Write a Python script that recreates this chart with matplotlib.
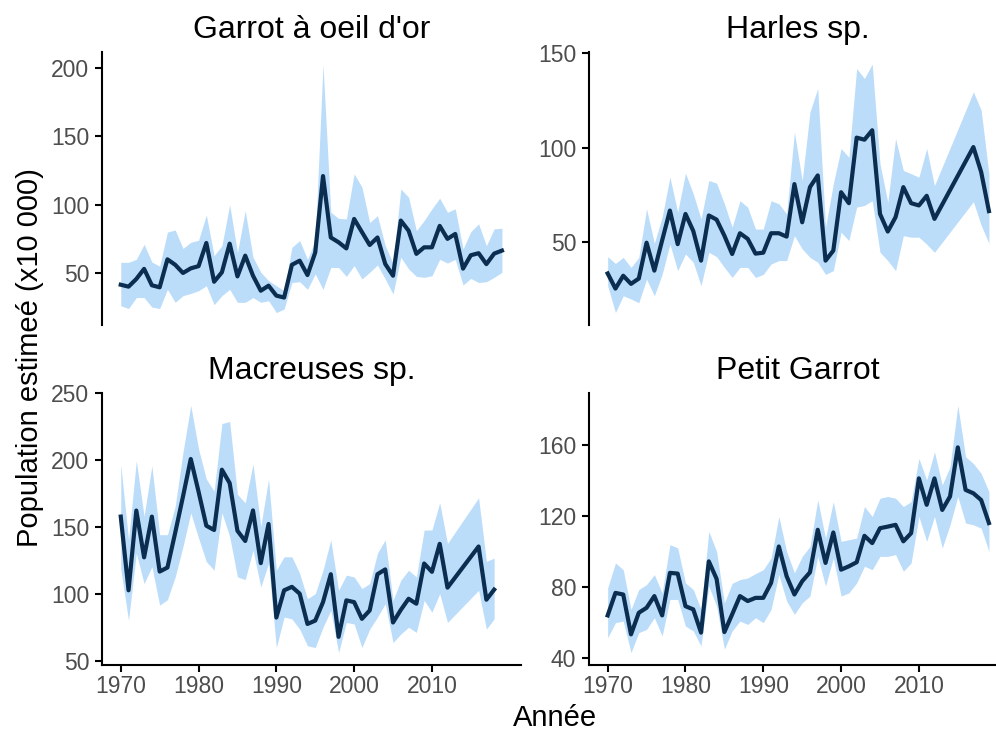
import matplotlib
matplotlib.use("Agg")
import matplotlib.pyplot as plt
import numpy as np

plt.rcParams["font.family"] = ["Liberation Sans", "DejaVu Sans"]

# Garrot à oeil d'or, 1970-2019
garrot_years = list(range(1970, 2020))
garrot_est = [41.4, 40, 45.6, 53, 41, 39.5, 60, 56, 50, 53.4,
              55, 72, 43.6, 50.5, 71.5, 47.5, 62.7, 48, 37, 40.7,
              33.4, 32, 56, 59, 48.5, 65, 121, 76, 72.5, 68,
              89.6, 80, 70.5, 76, 56.6, 48, 88.4, 81, 64, 68.8,
              68.8, 84.5, 75, 78.6, 53.2, 63, 64.5, 56.5, 64.2, 66.4]
garrot_lo = [26, 24, 32, 32, 25, 24, 38, 28.5, 33.4, 35,
             37, 40.7, 26.8, 33.4, 38, 28.5, 28.5, 32, 28.5, 29.7,
             21, 23.6, 43, 43.6, 38, 49.3, 38, 54, 54, 47.5,
             55.4, 45.6, 50.5, 55.9, 45.6, 34.6, 61.5, 53, 47.5, 46.8,
             48, 60, 57.3, 60, 41.2, 46, 43, 43.6, 46.8, 50.5]
garrot_hi = [57.8, 57.8, 60, 71, 58, 55, 80, 81.5, 68, 72.5,
             74, 92.5, 62.7, 70, 100, 65, 95.7, 61.5, 50.5, 44.4,
             40.7, 37, 68.8, 73.7, 60, 73.7, 203, 94.5, 90, 89.6,
             122.6, 113, 87, 92, 70, 57, 111.6, 105.5, 81, 88.4,
             97, 104.8, 94.5, 97, 67.6, 80.3, 86, 70, 82.3, 82.8]

# Harles sp., no survey 2013-2016
harles_years = list(range(1970, 2013)) + [2017, 2018, 2019]
harles_est = [33.5, 25.5, 32.3, 28, 30.8, 49.8, 35, 51, 66.8, 49,
              65, 56, 40.3, 64.2, 62, 53.5, 43.8, 54.8, 51.8, 44,
              44.5, 54.8, 54.8, 53, 80.8, 60.6, 79.2, 85.4, 40.3, 45.6,
              76.5, 70.7, 105.4, 104.3, 109.3, 65, 55.7, 63.3, 79.2, 70.7,
              69.5, 74.6, 62.4,
              100.4, 87.2, 66.5]
harles_lo = [27, 12.8, 21.7, 20, 18, 30.5, 21.7, 33, 49, 35,
             43.8, 39.4, 27, 44.7, 42.4, 36.7, 31.4, 36.7, 36.7, 31.4,
             33, 38.5, 40.3, 40.3, 53.5, 46.5, 42, 39.4, 33, 35,
             55.3, 50.9, 68.6, 69.5, 72, 44.7, 40.3, 35, 53.5, 52.7,
             52.7, 49, 44.7,
             71.5, 59, 49.5]
harles_hi = [42.4, 38.8, 42, 36.7, 42, 67.7, 49.5, 63.3, 84.5, 66,
             86.6, 75.7, 62.4, 82.7, 81.3, 70.4, 58, 72, 68.6, 57,
             57, 72, 70.4, 65, 108.4, 82.7, 119, 131.4, 58, 81,
             99.6, 95, 142, 136.7, 144.3, 91.6, 71.2, 104.9, 88, 86.3,
             84.5, 99.6, 80,
             129.6, 120, 86]

# Macreuses sp., no survey 2013-2015
macreuses_years = list(range(1970, 2013)) + [2016, 2017, 2018]
macreuses_est = [158, 103, 162.5, 127.6, 158, 117, 120, 146, 173, 201,
                 176.6, 151.2, 148, 193, 183, 147.4, 139.8, 162.6, 123.3, 152.5,
                 82.7, 103, 105.6, 100.5, 77.9, 80.4, 94.2, 115, 68.3, 95.5,
                 94.2, 81.7, 88, 115, 118.6, 79, 88.4, 96.7, 93, 123,
                 116.8, 137.7, 105,
                 135.7, 96, 103.5]
macreuses_lo = [119, 80.5, 130.7, 108, 120.6, 92, 96, 113, 135.7, 160.8,
                142, 124.4, 118, 160.8, 143.2, 113, 111, 133, 105.5, 123,
                60.3, 83, 81.7, 74, 61.6, 60.3, 75.4, 88, 56.5, 79,
                77.9, 60.3, 74, 83, 93, 64, 70.4, 75.4, 71.6, 95.5,
                86.7, 100.5, 79,
                103, 74, 81.7]
macreuses_hi = [197, 140.7, 199.7, 158.3, 196, 144.5, 144.5, 165.8, 206, 241,
                208.5, 186, 177, 227.4, 229, 174.6, 168.3, 197.2, 150.8, 186,
                118, 128, 128, 115.6, 96.7, 100.5, 118, 140.7, 103, 114.3,
                113, 104.3, 108, 130.7, 140.7, 95.5, 110.5, 118, 113, 148,
                148, 168.3, 138,
                172, 124.6, 127]

# Petit Garrot, 1970-2019
petit_years = list(range(1970, 2020))
petit_est = [63.9, 76.6, 75.7, 53.2, 65.4, 68.2, 74.8, 63.9, 87.9, 87.5,
             69.1, 67.3, 54.2, 94.4, 84.5, 54.5, 64.5, 74.8, 72, 73.8,
             73.8, 82.2, 102.8, 86, 75.7, 83.2, 88.2, 112.2, 93.5, 110.7,
             89.7, 91.6, 93.9, 108.8, 104.7, 113.1, 114, 115, 105.7, 110.3,
             141.2, 126.3, 141.2, 123.4, 131, 158.7, 134.7, 132.8, 129, 116]
petit_lo = [51.3, 59.8, 60.7, 42.9, 54.2, 56, 62.6, 52.3, 72.9, 72.9,
            57.9, 55.1, 46.7, 80.4, 69.1, 44.8, 55.1, 60.7, 58.8, 62.6,
            59.8, 67.3, 86.9, 72, 64.5, 71, 74.8, 97.2, 80.4, 96.3,
            74.8, 76.6, 82.2, 91.6, 89.7, 97.2, 97.2, 98.2, 88.8, 93.5,
            119.7, 105.7, 119.7, 101.9, 115, 131, 116, 115, 113.1, 100]
petit_hi = [79.4, 93.5, 89.7, 67.3, 78.5, 81.3, 86.9, 76.6, 103.8, 102,
            82.2, 78.5, 67.3, 111.3, 100, 71, 82, 84.1, 85, 87.5,
            89.7, 96.3, 119.7, 100, 87.9, 97.2, 102.8, 129, 107.5, 128.1,
            105.7, 106.6, 107.5, 125.3, 119.7, 130, 131, 130, 125.3, 128.1,
            152.5, 140.3, 156.2, 137.5, 147.8, 182.4, 153.4, 149.6, 144, 133.7]

titles = ["Garrot à oeil d'or", "Harles sp.", "Macreuses sp.", "Petit Garrot"]
yticks = [[50, 100, 150, 200], [50, 100, 150], [50, 100, 150, 200, 250], [40, 80, 120, 160]]
xticks = [1970, 1980, 1990, 2000, 2010]

series = [
    (garrot_years, garrot_est, garrot_lo, garrot_hi),
    (harles_years, harles_est, harles_lo, harles_hi),
    (macreuses_years, macreuses_est, macreuses_lo, macreuses_hi),
    (petit_years, petit_est, petit_lo, petit_hi),
]

LINE = "#0B2E50"
RIBBON = "#BCDDFA"
GREY = "#4D4D4D"

W, H = 996, 736
fig = plt.figure(figsize=(W / 100, H / 100), dpi=100)

# panel boxes in pixels: left, top, right, bottom
boxes = [(101.7, 51.7, 521, 325), (588.6, 51.7, 1008, 325),
         (101.7, 393, 521, 665), (588.6, 393, 1008, 665)]

# shared x range with ggplot-style 5% expansion
all_years = np.concatenate([s[0] for s in series])
xmin, xmax = all_years.min(), all_years.max()
xpad = 0.05 * (xmax - xmin)

for i, (box, (yrs, est, lo, hi)) in enumerate(zip(boxes, series)):
    x0, y0, x1, y1 = box
    ax = fig.add_axes([x0 / W, 1 - y1 / H, (x1 - x0) / W, (y1 - y0) / H])
    ax.fill_between(yrs, lo, hi, color=RIBBON, lw=0)
    ax.plot(yrs, est, color=LINE, lw=3.0)

    ymin, ymax = min(lo), max(hi)
    ypad = 0.05 * (ymax - ymin)
    ax.set_ylim(ymin - ypad, ymax + ypad)
    ax.set_xlim(xmin - xpad, xmax + xpad)
    ax.set_yticks(yticks[i])

    for side in ["top", "right"]:
        ax.spines[side].set_visible(False)
    ax.spines["left"].set_linewidth(1.5)
    ax.spines["bottom"].set_linewidth(1.5)
    ax.tick_params(axis="both", length=5, width=1.5, color="black",
                   labelsize=16.5, labelcolor=GREY, pad=4)

    if i < 2:
        ax.spines["bottom"].set_visible(False)
        ax.set_xticks([])
    else:
        ax.set_xticks(xticks)
        ax.tick_params(axis="x", pad=2)

    ax.set_title(titles[i], fontsize=23, pad=10)

fig.text(555 / W, 1 - 718 / H, "Année", fontsize=21, ha="center", va="center")
fig.text(30 / W, 1 - 358 / H, "Population estimeé (x10 000)", fontsize=21,
         rotation=90, ha="center", va="center")

fig.savefig("out.png", dpi=100)
